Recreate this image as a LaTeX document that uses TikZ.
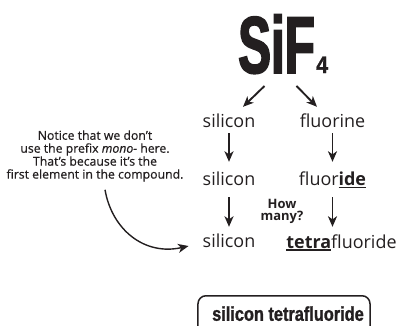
\documentclass[tikz,border=0pt]{standalone}
\usepackage{fontspec}
\setmainfont{Open Sans}
\newfontfamily\notefont{Open Sans}[FakeBold=0.6]
\newfontfamily\bigcond{Liberation Sans}[FakeStretch=0.61,FakeBold=2]
\newfontfamily\subcond{Liberation Sans}[FakeStretch=0.9,FakeBold=1.5]
\newfontfamily\boxcond{Liberation Sans}[FakeStretch=0.82,FakeBold=1.2]
\usetikzlibrary{arrows.meta}
\definecolor{ink}{HTML}{231F20}
\newcommand\myul[1]{\setbox0\hbox{#1}\rlap{\color{ink}\rule[-3pt]{\wd0}{1.5pt}}\box0}
\tikzset{
  every node/.style={inner sep=0pt, text=ink},
  lbl/.style={anchor=base, font=\fontsize{18}{20}\selectfont, text height=13bp, text depth=0bp},
  arr/.style={draw=ink, line width=1.9bp, -{Stealth[length=10.5bp,width=9bp,inset=3bp]}},
  namebox/.style={draw=ink, line width=1.5bp, rounded corners=8bp, minimum width=172bp,
    text height=13bp, text depth=20bp, inner ysep=12bp, inner xsep=0pt, anchor=north,
    font=\boxcond\bfseries\fontsize{20}{20}\selectfont}
}
\begin{document}
\begin{tikzpicture}[x=1bp,y=-1bp]
\useasboundingbox (0,0) rectangle (399,326);
\clip (0,0) rectangle (399,326);
% formula
\node[anchor=base west, font=\bigcond\bfseries\fontsize{81}{81}\selectfont] (sif) at (238,73) {SiF};
\node[anchor=base west, font=\subcond\bfseries\fontsize{24}{24}\selectfont] (four) at ([xshift=1bp]sif.base east) {4};
% labels
\node[lbl] (si1) at (229,127) {silicon};
\node[lbl] (fl1) at (332.5,127) {fluorine};
\node[lbl] (si2) at (229,185.5) {silicon};
\node[lbl] (fl2) at (332.5,185.5) {fluor\myul{\textbf{ide}}};
\node[lbl] (si3) at (229,247.5) {silicon};
\node[lbl] (fl3) at (341.5,248) {\myul{\textbf{tetra}}fluoride};
\node[align=center, font=\bfseries\fontsize{13}{12}\selectfont] (how) at (282,211) {How\\many?};
\node[align=center, font=\notefont\fontsize{12.3}{13}\selectfont] (note) at (95,156)
  {Notice that we don’t\\use the prefix \textit{mono-} here.\\That’s because it’s the\\first element in the compound.};
% arrows
\draw[arr] ([xshift=-12bp,yshift=-12bp]sif.south) -- ([xshift=14bp,yshift=7bp]si1.north);
\draw[arr] ([xshift=20bp,yshift=-12bp]sif.south) -- ([xshift=-15.5bp,yshift=7bp]fl1.north);
\draw[arr] ([yshift=-6bp]si1.south) -- ([yshift=10.5bp]si2.north);
\draw[arr] ([yshift=-6bp]fl1.south -| fl2.south) -- ([yshift=10.5bp]fl2.north);
\draw[arr] ([yshift=-11.5bp]si2.south) -- ([yshift=7.5bp]si3.north);
\draw[arr] ([yshift=-11.5bp]fl2.south) -- ([yshift=8bp]fl3.north -| fl2.south);
\draw[arr, line width=1.4bp] ([xshift=10bp,yshift=-8bp]note.south) .. controls +(7,40) and +(-44,10) .. ([xshift=-14bp,yshift=-5bp]si3.west);
% answer
\node[namebox] (answer) at (284,295) {\hspace*{8bp}silicon tetrafluoride};
\end{tikzpicture}
\end{document}
